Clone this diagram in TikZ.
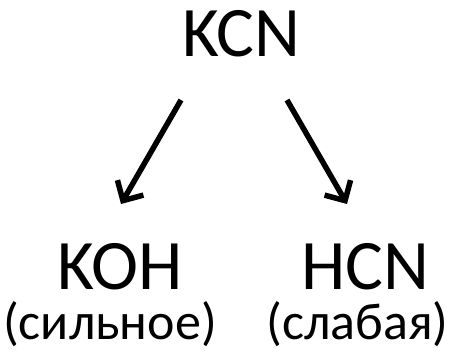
\documentclass[tikz,border=0pt]{standalone}
\usepackage{fontspec}
\setmainfont{Carlito}
\usetikzlibrary{arrows.meta}
\begin{document}
\begin{tikzpicture}[x=1pt,y=-1pt,
  big/.style={font=\fontsize{71}{71}\selectfont, anchor=base, inner sep=0pt},
  small/.style={font=\fontsize{52}{52}\selectfont, anchor=base, inner sep=0pt},
  arr/.style={line width=5.5pt, -{Straight Barb[length=15pt,width=30pt,line width=5.5pt]}}]
\useasboundingbox (0,0) rectangle (464,355);
\node[big] (kcn) at (241,57) {KCN};
\node[big] (koh) at (120,290) {KOH};
\node[big] (hcn) at (365,290) {HCN};
\node[small] (s1) at (110,340) {(сильное)};
\node[small] (s2) at (357.5,340) {(слабая)};
\coordinate (a1) at (181,100);
\coordinate (b1) at (121,204);
\coordinate (a2) at (287,100);
\coordinate (b2) at (347,204);
\draw[arr] (a1) -- (b1);
\draw[arr] (a2) -- (b2);
\end{tikzpicture}
\end{document}
